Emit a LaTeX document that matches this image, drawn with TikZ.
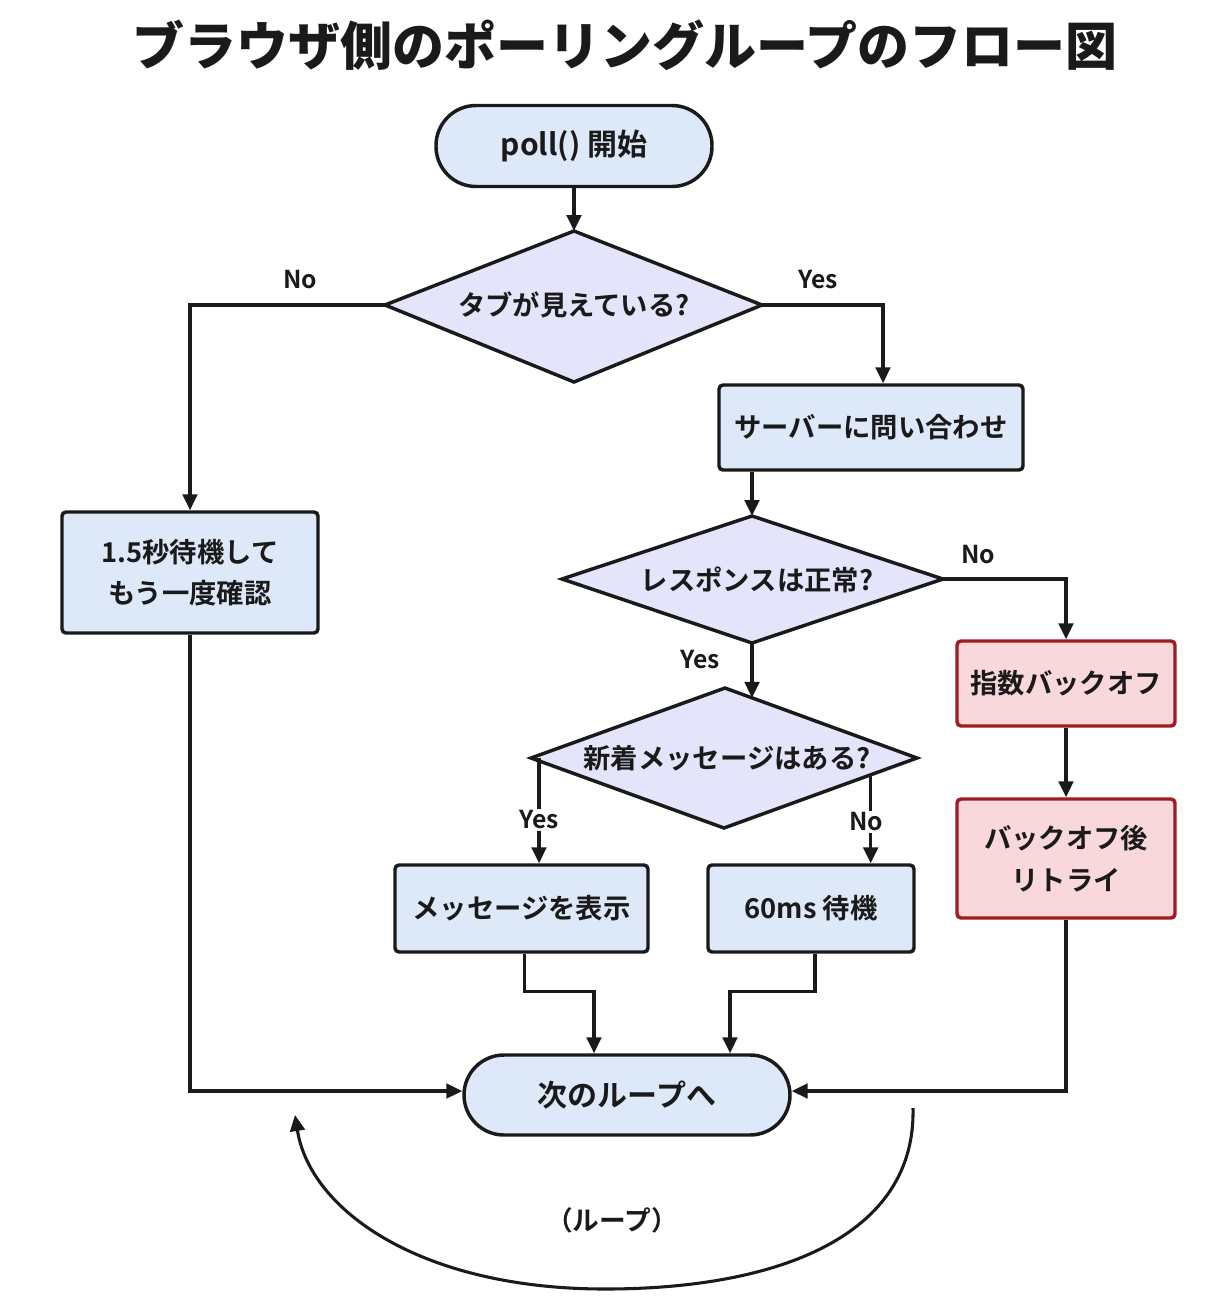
\documentclass[tikz,border=0pt]{standalone}
\usepackage{fontspec}
\setmainfont{Noto Sans CJK JP}[BoldFont={Noto Sans CJK JP Bold}]
\newfontfamily\titlefont{Noto Sans CJK JP Black}
\usetikzlibrary{arrows.meta,calc}
\definecolor{bluefill}{HTML}{DDE9F8}
\definecolor{diafill}{HTML}{E4E4FA}
\definecolor{redfill}{HTML}{F8D8DB}
\definecolor{redline}{HTML}{9E1C22}
\definecolor{ink}{HTML}{1A1A1A}
\tikzset{
  every node/.style={text=ink, font=\bfseries\fontsize{20.5pt}{31pt}\selectfont},
  pill/.style={draw=ink, line width=2.6pt, fill=bluefill, rounded corners=30pt, inner sep=0pt, font=\bfseries\fontsize{22.5pt}{27pt}\selectfont},
  procbox/.style={draw=ink, line width=2.6pt, fill=bluefill, rounded corners=3pt, inner sep=0pt, align=center},
  redbox/.style={draw=redline, line width=2.6pt, fill=redfill, rounded corners=3pt, inner sep=0pt, align=center},
  decision/.style={draw=ink, line width=2.6pt, fill=diafill, line join=miter},
  arr/.style={draw=ink, line width=2.5pt, -{Triangle[length=12pt,width=11pt]}},
  lbl/.style={font=\bfseries\fontsize{18.5pt}{22pt}\selectfont},
}
\begin{document}
\begin{tikzpicture}[x=0.75pt,y=-0.75pt]
\useasboundingbox (0,0) rectangle (1209,1300);
\fill[white] (0,0) rectangle (1209,1300);
\node[font=\titlefont\fontsize{39pt}{44pt}\selectfont] (title) at (625,45) {ブラウザ側のポーリングループのフロー図};

% diamonds (drawn as shapes)
\coordinate (d1n) at (574,231); \coordinate (d1s) at (574,382);
\coordinate (d1w) at (385,305); \coordinate (d1e) at (762,305);
\draw[decision] (d1n) -- (d1e) -- (d1s) -- (d1w) -- cycle;
\coordinate (d2n) at (752,516); \coordinate (d2s) at (752,643);
\coordinate (d2w) at (562,579); \coordinate (d2e) at (943,579);
\draw[decision] (d2n) -- (d2e) -- (d2s) -- (d2w) -- cycle;
\coordinate (d3n) at (725,688); \coordinate (d3s) at (724,828);
\coordinate (d3w) at (531,758); \coordinate (d3e) at (917,758);
\draw[decision] (d3n) -- (d3e) -- (d3s) -- (d3w) -- cycle;

\node (d1) at (574,305) {タブが見えている?};
\node (d2) at (757,580) {レスポンスは正常?};
\node (d3) at (727,758) {新着メッセージはある?};

\node[pill, minimum width={276*0.75pt}, minimum height={81*0.75pt}] (start) at (574,146) {poll() 開始};
\node[procbox, minimum width={304*0.75pt}, minimum height={85*0.75pt}] (srv) at (871,427.5) {サーバーに問い合わせ};
\node[procbox, minimum width={256*0.75pt}, minimum height={121*0.75pt}] (wait) at (190,572.5) {1.5秒待機して\\もう一度確認};
\node[redbox, minimum width={218*0.75pt}, minimum height={85*0.75pt}] (back) at (1066,683.5) {指数バックオフ};
\node[redbox, minimum width={218*0.75pt}, minimum height={119*0.75pt}] (retry) at (1066,858.5) {バックオフ後\\リトライ};
\node[procbox, minimum width={253*0.75pt}, minimum height={87*0.75pt}] (show) at (521.5,908.5) {メッセージを表示};
\node[procbox, minimum width={206*0.75pt}, minimum height={87*0.75pt}] (w60) at (811,908.5) {60ms 待機};
\node[pill, minimum width={326*0.75pt}, minimum height={80*0.75pt}] (next) at (627,1095) {次のループへ};

% connectors
\draw[arr] (start.south) -- (d1n);
\draw[arr] (d1w) -| (wait.north);
\draw[arr] (d1e) -| ([xshift={12*0.75pt}]srv.north);
\draw[arr] (srv.south -| d2n) -- (d2n);
\draw[arr] (d2e) -| (back.north);
\coordinate (d3in) at ($(d3n)!0.14!(d3e)$);
\draw[arr] (d2s) -- (d2s |- d3in);
\draw[arr] (back.south) -- (retry.north);
\coordinate (d3yes) at ([xshift={8*0.75pt}]d3w);
\draw[arr] (d3yes) -- (d3yes |- show.north);
\coordinate (d3no) at ($(d3e)!0.24!(d3s)$);
\draw[arr] (d3no) -- (d3no |- w60.north);
\draw[arr] ([xshift={3*0.75pt}]show.south) -- ++(0,38) -| ([xshift={-33*0.75pt}]next.north);
\draw[arr] ([xshift={4*0.75pt}]w60.south) -- ++(0,38) -| ([xshift={103*0.75pt}]next.north);
\draw[arr] (wait.south) |- ([yshift={4*0.75pt}]next.west);
\draw[arr] (retry.south) |- ([yshift={4*0.75pt}]next.east);

% labels
\node[lbl] (l1) at (300,280) {No};
\node[lbl] (l2) at (818,280) {Yes};
\node[lbl] (l3) at (978,555) {No};
\node[lbl] (l4) at (700,660) {Yes};
\node[lbl, fill=white, inner sep=1pt] (l5) at (539,820) {Yes};
\node[lbl, fill=white, inner sep=1pt] (l6) at (866,822) {No};

% loop arc
\coordinate (la) at (913,1108);
\coordinate (lb) at (295,1115);
\draw[arr, line width=2.3pt] (la) .. controls (916,1235) and (780,1289) .. (605,1289) .. controls (420,1289) and (310,1210) .. (lb);
\node[font=\bfseries\fontsize{20pt}{24pt}\selectfont] (loop) at (612,1220) {（ループ）};
\end{tikzpicture}
\end{document}
